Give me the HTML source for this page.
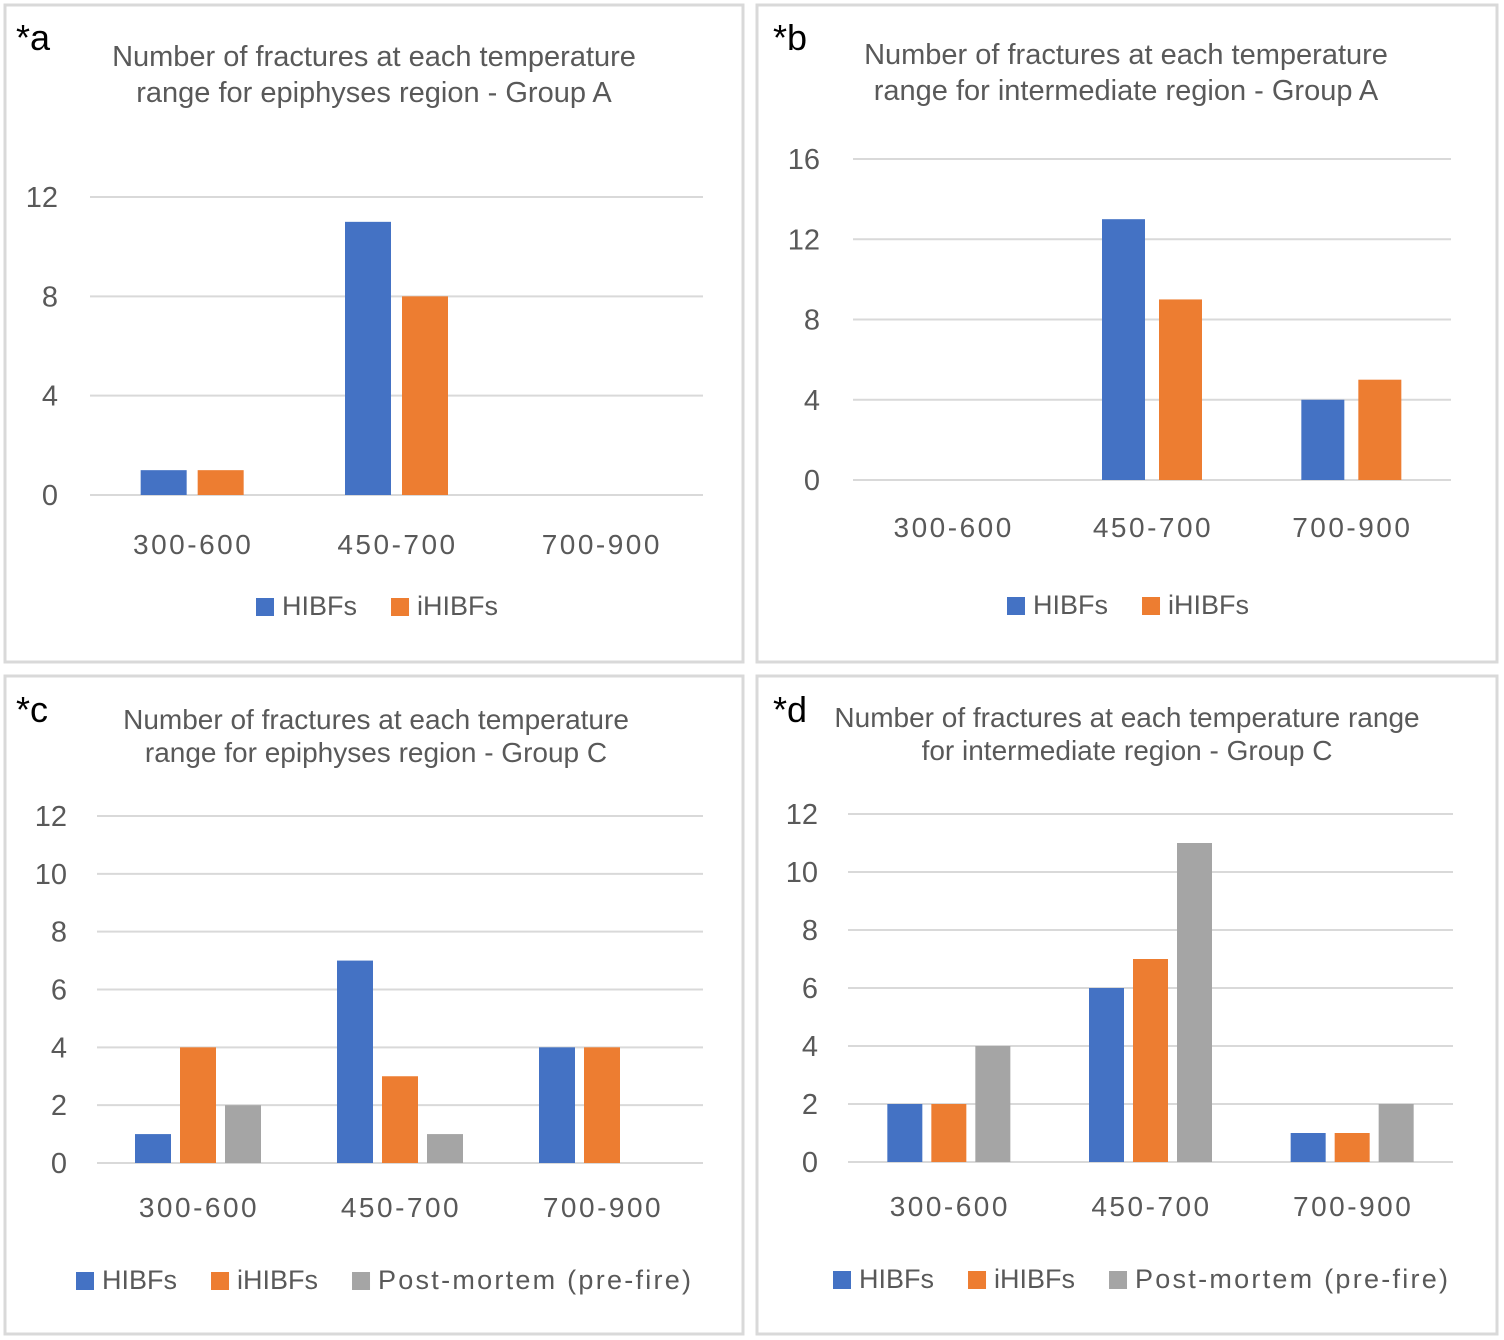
<!DOCTYPE html>
<html><head><meta charset="utf-8"><style>
html,body{margin:0;padding:0;background:#fff;}
svg{display:block;font-family:"Liberation Sans",sans-serif;}
</style></head><body>
<svg id="fig" width="1504" height="1340" viewBox="0 0 1504 1340">
<rect x="5" y="5" width="738" height="657" fill="#fff" stroke="#d9d9d9" stroke-width="3"/>
<rect x="757" y="5" width="740" height="657" fill="#fff" stroke="#d9d9d9" stroke-width="3"/>
<rect x="5" y="676" width="738" height="658" fill="#fff" stroke="#d9d9d9" stroke-width="3"/>
<rect x="757" y="676" width="740" height="658" fill="#fff" stroke="#d9d9d9" stroke-width="3"/>
<g id="layer"></g>
</svg>
<script>
const categories = ["300-600","450-700","700-900"];
const seriesNames = ["HIBFs","iHIBFs","Post-mortem (pre-fire)"];
const aHIBF = [1,11,0];
const aIHIBF = [1,8,0];
const bHIBF = [0,13,4];
const bIHIBF = [0,9,5];
const cHIBF = [1,7,4];
const cIHIBF = [4,3,4];
const cPost = [2,1,0];
const dHIBF = [2,6,1];
const dIHIBF = [2,7,1];
const dPost = [4,11,2];
const aTicks = [0,4,8,12];
const bTicks = [0,4,8,12,16];
const cTicks = [0,2,4,6,8,10,12];
const dTicks = [0,2,4,6,8,10,12];
const colors = ["#4472c4","#ed7d31","#a5a5a5"];
const NS = "http://www.w3.org/2000/svg";
const layer = document.getElementById("layer");
function mk(tag, attrs, text){
  const e = document.createElementNS(NS, tag);
  for (const k in attrs) e.setAttribute(k, attrs[k]);
  if (text !== undefined) e.textContent = text;
  layer.appendChild(e);
  return e;
}
function panel(p){
  const lab = mk("text",{x:p.lx,y:p.ly,"font-size":36,fill:"#000"},"*"+p.id);
  
  
  p.title.forEach((t,i)=>{
    const e = mk("text",{x:p.tx,y:p.ty+i*p.tl,"font-size":p.tfs,fill:"#595959","text-anchor":"middle"},t);
    
    
  });
  const maxV = p.ticks[p.ticks.length-1];
  const y = v => p.y0 - (p.y0 - p.yTop) * v / maxV;
  p.ticks.forEach(t=>{
    const g = mk("line",{x1:p.x0,x2:p.x1,y1:y(t),y2:y(t),stroke:"#d9d9d9","stroke-width":2});
    
    
    const tl = mk("text",{x:p.tickX,y:y(t)+10,"font-size":29,fill:"#595959","text-anchor":"end"},String(t));
    
    
  });
  const cw = (p.x1 - p.x0) / categories.length;
  const n = p.series.length;
  const groupW = n*p.bw + (n-1)*p.gap;
  categories.forEach((c,ci)=>{
    const cx = p.x0 + cw*(ci+0.5);
    p.series.forEach((s,si)=>{
      const v = s[ci];
      if (v <= 0) return;
      const bx = cx - groupW/2 + si*(p.bw+p.gap);
      const r = mk("rect",{x:bx,y:y(v),width:p.bw,height:p.y0-y(v),fill:colors[si]});
      
      
    });
    const cl = mk("text",{x:cx+1,y:p.catY,"font-size":28,"letter-spacing":"2.5",fill:"#595959","text-anchor":"middle"},c);
    
    
  });
  let lx = p.legX;
  for (let si=0; si<n; si++){
    const sw = mk("rect",{x:lx,y:p.legY-17,width:18,height:18,fill:colors[si]});
    
    
    const attrs = {x:lx+26,y:p.legY,"font-size":27,fill:"#595959"};
    if (si===2) { attrs.textLength = 313; attrs.lengthAdjust = "spacing"; }
    const t = mk("text",attrs,seriesNames[si]);
    
    
    lx += 26 + t.getComputedTextLength() + 34;
  }
}
panel({id:"a",lx:16,ly:50,title:["Number of fractures at each temperature","range for epiphyses region - Group A"],tx:374,ty:66,tl:36,tfs:29,
  ticks:aTicks,y0:495,yTop:197,x0:90,x1:703,tickX:58,bw:46,gap:11,series:[aHIBF,aIHIBF],catY:554,legX:256,legY:615});
panel({id:"b",lx:773,ly:50,title:["Number of fractures at each temperature","range for intermediate region - Group A"],tx:1126,ty:64,tl:36,tfs:29,
  ticks:bTicks,y0:480,yTop:159,x0:853,x1:1451,tickX:820,bw:43,gap:14,series:[bHIBF,bIHIBF],catY:537,legX:1007,legY:614});
panel({id:"c",lx:16,ly:722,title:["Number of fractures at each temperature","range for epiphyses region - Group C"],tx:376,ty:729,tl:33,tfs:28,
  ticks:cTicks,y0:1163,yTop:816,x0:97,x1:703,tickX:67,bw:36,gap:9,series:[cHIBF,cIHIBF,cPost],catY:1217,legX:76,legY:1289});
panel({id:"d",lx:773,ly:722,title:["Number of fractures at each temperature range","for intermediate region - Group C"],tx:1127,ty:727,tl:33,tfs:28,
  ticks:dTicks,y0:1162,yTop:814,x0:848,x1:1453,tickX:818,bw:35,gap:9,series:[dHIBF,dIHIBF,dPost],catY:1216,legX:833,legY:1288});
</script>
</body></html>
